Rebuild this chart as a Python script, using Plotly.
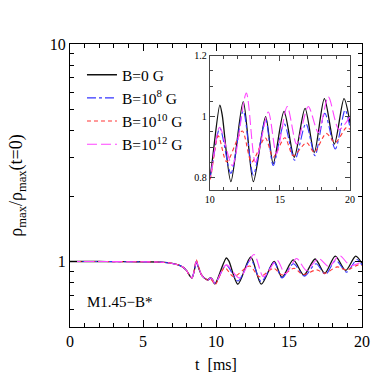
import numpy as np
import plotly.graph_objects as go

# shared early evolution (all models coincide)
t_pre = [0, 1, 2, 3, 4, 5, 6, 6.5, 7, 7.5, 7.8, 8.0, 8.2, 8.35, 8.5]
rho_pre = [1.0, 1.0, 1.0, 0.999, 0.998, 0.997, 0.995, 0.99, 0.98, 0.96, 0.935, 0.905, 0.86, 0.84, 0.9]

t_b0 = [8.65, 8.8, 9.0, 9.2, 9.45, 9.6, 9.75, 9.9, 10.0, 10.71, 10.88, 11.5, 12.38, 13.1, 13.98, 14.52,
        15.29, 16.02, 16.79, 17.45, 18.17, 18.88, 19.57, 20]
rho_b0 = [1.0, 0.94, 0.87, 0.84, 0.825, 0.84, 0.83, 0.79, 0.80, 1.038, 1.006, 0.787, 1.049, 0.787, 1.0, 0.846,
          1.017, 0.867, 1.027, 0.883, 1.059, 0.91, 1.059, 0.979]

t_b8 = [8.65, 8.8, 9.0, 9.2, 9.45, 9.6, 9.75, 9.9, 10.0, 10.71, 11.5, 12.38, 13.1, 13.98, 14.52,
        15.3, 16.05, 16.85, 17.5, 18.2, 18.95, 19.65, 20]
rho_b8 = [0.99, 0.94, 0.87, 0.84, 0.82, 0.835, 0.825, 0.795, 0.80, 0.963, 0.814, 1.019, 0.809, 0.99, 0.84,
          0.977, 0.857, 0.977, 0.872, 1.011, 0.894, 1.022, 0.963]

t_b10 = [8.65, 8.8, 9.0, 9.2, 9.45, 9.6, 9.75, 9.9, 10.0, 10.6, 11.2, 12.31, 12.98, 13.95, 14.52,
         15.35, 15.95, 16.9, 17.45, 18.3, 18.95, 19.75, 20]
rho_b10 = [1.02, 0.95, 0.87, 0.84, 0.82, 0.83, 0.815, 0.785, 0.79, 0.937, 0.852, 0.953, 0.851, 0.931, 0.867,
           0.931, 0.872, 0.915, 0.883, 0.945, 0.915, 0.965, 0.958]

t_b12 = [8.65, 8.8, 9.0, 9.2, 9.45, 9.6, 9.75, 9.9, 10.0, 10.7, 11.6, 12.6, 13.25, 14.17, 14.75,
         15.52, 16.19, 17.02, 17.74, 18.45, 19.21, 20]
rho_b12 = [1.0, 0.95, 0.87, 0.84, 0.825, 0.84, 0.83, 0.795, 0.80, 0.965, 0.84, 1.077, 0.851, 1.015, 0.878,
           1.033, 0.91, 1.033, 0.948, 1.065, 0.958, 1.0]

names = ["B=0 G", "B=10<sup>8</sup> G", "B=10<sup>10</sup> G", "B=10<sup>12</sup> G"]
colors = ["#111111", "#3535ff", "#ff3535", "#ff44ff"]
dashes = ["solid", "dashdot", "4px,3px", "10px,4px"]
widths = [1.3, 1.1, 1.1, 1.1]
series = [(t_b0, rho_b0), (t_b8, rho_b8), (t_b10, rho_b10), (t_b12, rho_b12)]

FONT = "Liberation Serif"
fig = go.Figure()

for i, ((tt, rr), nm, c, d, w) in enumerate(zip(series, names, colors, dashes, widths)):
    t_all = t_pre + tt
    r_all = rho_pre + rr
    fig.add_trace(go.Scatter(x=t_all, y=r_all, mode="lines", name=nm, legendgroup="g%d" % i,
                             line=dict(color=c, dash=d, width=w, shape="spline", smoothing=0.8),
                             xaxis="x", yaxis="y"))
for (tt, rr), nm, c, d, w in zip(series, names, colors, dashes, widths):
    t_all = t_pre + tt
    r_all = rho_pre + rr
    fig.add_trace(go.Scatter(x=t_all, y=r_all, mode="lines", name=nm, showlegend=False,
                             line=dict(color=c, dash=d, width=w, shape="spline", smoothing=0.8),
                             xaxis="x2", yaxis="y2"))

x_minor = list(range(0, 21))
y_minor = [0.5, 0.6, 0.7, 0.8, 0.9, 2, 3, 4, 5, 6, 7, 8, 9]

fig.update_layout(
    width=382, height=382,
    margin=dict(l=70, r=20, t=44, b=47),
    paper_bgcolor="white", plot_bgcolor="white",
    font=dict(family=FONT, size=15, color="black"),
    showlegend=True,
    legend=dict(x=0.041, y=0.95, xanchor="left", yanchor="top", bgcolor="rgba(0,0,0,0)",
                font=dict(family=FONT, size=15.5), itemwidth=30, tracegroupgap=0),
    xaxis=dict(domain=[0, 1], range=[0, 20], showline=True, linecolor="black", linewidth=1,
               mirror="allticks", ticks="inside", ticklen=7, tickcolor="black",
               tickvals=[0, 5, 10, 15, 20], showgrid=False, zeroline=False,
               minor=dict(tickvals=x_minor, ticks="inside", ticklen=4, tickcolor="black", showgrid=False),
               title=dict(text="t  [ms]", standoff=9, font=dict(size=16)),
               tickfont=dict(size=16)),
    yaxis=dict(domain=[0, 1], type="log", range=[np.log10(0.5), 1.0], showline=True, linecolor="black",
               linewidth=1, mirror="allticks", ticks="inside", ticklen=7, tickcolor="black",
               tickvals=[1, 10], ticktext=["1", "10"], showgrid=False, zeroline=False,
               minor=dict(tickvals=y_minor, ticks="inside", ticklen=4, tickcolor="black", showgrid=False),
               title=dict(text="ρ<sub>max</sub>/ρ<sub>max</sub>(t=0)", standoff=22, font=dict(size=18)),
               tickfont=dict(size=16)),
    xaxis2=dict(domain=[0.479, 0.959], anchor="y2", range=[10, 20], showline=True, linecolor="#444",
                linewidth=1, mirror="allticks", ticks="inside", ticklen=5, tickcolor="#444",
                tickvals=[10, 15, 20], showgrid=False, zeroline=False,
                minor=dict(dtick=1, ticks="inside", ticklen=3, tickcolor="#444", showgrid=False),
                tickfont=dict(size=10)),
    yaxis2=dict(domain=[0.4845, 0.959], anchor="x2", range=[0.76, 1.2], showline=True, linecolor="#444",
                linewidth=1, mirror="allticks", ticks="inside", ticklen=5, tickcolor="#444",
                tickvals=[0.8, 1.0, 1.2], ticktext=["0.8", "1", "1.2"], showgrid=False, zeroline=False,
                minor=dict(dtick=0.05, ticks="inside", ticklen=3, tickcolor="#444", showgrid=False),
                tickfont=dict(size=10)),
    annotations=[dict(text="M1.45\u2212B*", xref="paper", yref="paper", x=0.05, y=0.089,
                      xanchor="left", yanchor="middle", showarrow=False, font=dict(size=15))],
)

fig.write_html("out.html", config={"displayModeBar": False},
               post_script="document.body.style.margin='0';")
